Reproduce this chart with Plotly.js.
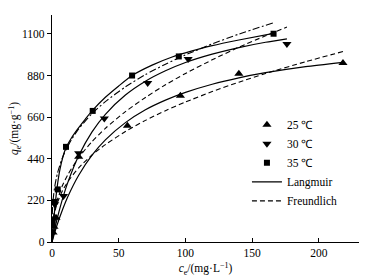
<!DOCTYPE html>
<html>
<head>
<meta charset="utf-8">
<script src="https://cdn.plot.ly/plotly-3.0.1.min.js"></script>
<style>html,body{margin:0;padding:0;background:#fff;}#chart{width:377px;height:279px;}</style>
</head>
<body>
<div id="chart"></div>
<script>
// Experimental points
const ce25 = [0.8, 1.5, 3, 20, 56.5, 96.2, 140, 218];
const qe25 = [50, 80, 128, 451, 614, 773, 889, 946];
const ce30 = [1.2, 2, 8.6, 20, 39.2, 71.7, 102, 176];
const qe30 = [120, 200, 243, 469, 653, 840, 967, 1047];
const ce35 = [0.5, 1.8, 4.3, 10.5, 30.5, 60, 95, 166];
const qe35 = [100, 212, 278, 503, 693, 880, 981, 1101];

// Fitted curves, values
const cL25 = [0, 1, 2, 4, 8, 12, 20, 30, 40, 55, 70, 85, 100, 120, 140, 160, 190, 218];
const qL25 = [0, 25, 49, 94, 173, 242, 353, 459, 540, 631, 699, 750, 791, 834, 868, 895, 927, 950];
const cF25 = [0, 0.2, 0.5, 1, 2, 4, 8, 12, 20, 30, 40, 55, 70, 85, 100, 120, 140, 160, 190, 218];
const qF25 = [0, 64, 91, 120, 158, 207, 273, 320, 392, 460, 515, 584, 643, 694, 740, 795, 845, 891, 953, 1007];

const cL30 = [0, 1, 2, 4, 8, 12, 20, 30, 40, 55, 70, 85, 100, 120, 140, 160, 176];
const qL30 = [0, 34, 67, 127, 231, 318, 456, 582, 675, 777, 850, 905, 949, 993, 1028, 1056, 1074];
const cF30 = [0, 0.2, 0.5, 1, 2, 4, 8, 12, 20, 30, 40, 55, 70, 85, 100, 120, 140, 160, 176];
const qF30 = [0, 62, 91, 123, 166, 223, 301, 358, 446, 531, 601, 689, 764, 831, 891, 963, 1030, 1090, 1136];

const cL35 = [0, 1.5, 3.5, 6, 10, 15, 20, 25, 30, 40, 50, 60, 75, 90, 105, 120, 140, 166];
const qL35 = [0, 130, 270, 385, 490, 555, 605, 650, 693, 765, 825, 880, 935, 978, 1010, 1038, 1068, 1103];
const cF35 = [0, 0.2, 0.5, 1, 2, 4, 7, 10, 15, 20, 30, 40, 55, 70, 85, 100, 120, 140, 166];
const qF35 = [0, 141, 188, 234, 291, 361, 430, 481, 546, 598, 679, 742, 820, 885, 940, 989, 1047, 1099, 1159];

const xTicks = [0, 50, 100, 150, 200];
const yTicks = [0, 220, 440, 660, 880, 1100];

const serif = 'Liberation Serif, Times New Roman, serif';
const solid = {color: '#000', width: 1.2, shape: 'spline', smoothing: 0.6};
const dashed = {color: '#000', width: 1.1, dash: '5px,3px', shape: 'spline', smoothing: 0.6};
const dashdot = {color: '#000', width: 1.1, dash: '7px,2.5px,2px,2.5px', shape: 'spline', smoothing: 0.6};

const traces = [
  {x: ce25, y: qe25, mode: 'markers', name: '25 ℃', marker: {symbol: 'triangle-up', size: 8, color: '#000'}},
  {x: ce30, y: qe30, mode: 'markers', name: '30 ℃', marker: {symbol: 'triangle-down', size: 8, color: '#000'}},
  {x: ce35, y: qe35, mode: 'markers', name: '35 ℃', marker: {symbol: 'square', size: 6, color: '#000'}},
  {x: cL25, y: qL25, mode: 'lines', name: 'Langmuir', line: solid},
  {x: cF25, y: qF25, mode: 'lines', name: 'Freundlich', line: dashed},
  {x: cL30, y: qL30, mode: 'lines', showlegend: false, line: solid},
  {x: cF30, y: qF30, mode: 'lines', showlegend: false, line: dashed},
  {x: cL35, y: qL35, mode: 'lines', showlegend: false, line: solid},
  {x: cF35, y: qF35, mode: 'lines', showlegend: false, line: dashdot}
];

const layout = {
  width: 377, height: 279,
  margin: {l: 52, r: 18, t: 15, b: 37},
  paper_bgcolor: '#fff', plot_bgcolor: '#fff',
  font: {family: serif, size: 11, color: '#000'},
  showlegend: true,
  legend: {x: 0.635, y: 0.58, xanchor: 'left', yanchor: 'top', bgcolor: 'rgba(0,0,0,0)',
           font: {family: serif, size: 11.5, color: '#000'}, tracegroupgap: 0, itemwidth: 30},
  xaxis: {
    range: [0, 230], tickvals: xTicks, ticktext: xTicks.map(String),
    ticks: 'inside', ticklen: 4, tickwidth: 1, tickcolor: '#000',
    showline: true, linecolor: '#000', linewidth: 1.2, showgrid: false, zeroline: false,
    tickfont: {family: serif, size: 11.5},
    title: {text: '<i>c</i><sub>e</sub>/(mg·L<sup>−1</sup>)', font: {family: serif, size: 11.5}, standoff: 6}
  },
  yaxis: {
    range: [0, 1200], tickvals: yTicks, ticktext: yTicks.map(String),
    ticks: 'outside', ticklen: 4, tickwidth: 1, tickcolor: '#000',
    showline: true, linecolor: '#000', linewidth: 1.2, showgrid: false, zeroline: false,
    tickfont: {family: serif, size: 11.5},
    title: {text: '<i>q</i><sub>e</sub>/(mg·g<sup>−1</sup>)', font: {family: serif, size: 11.5}, standoff: 0}
  }
};

Plotly.newPlot('chart', traces, layout, {staticPlot: true, displayModeBar: false});
</script>
</body>
</html>
